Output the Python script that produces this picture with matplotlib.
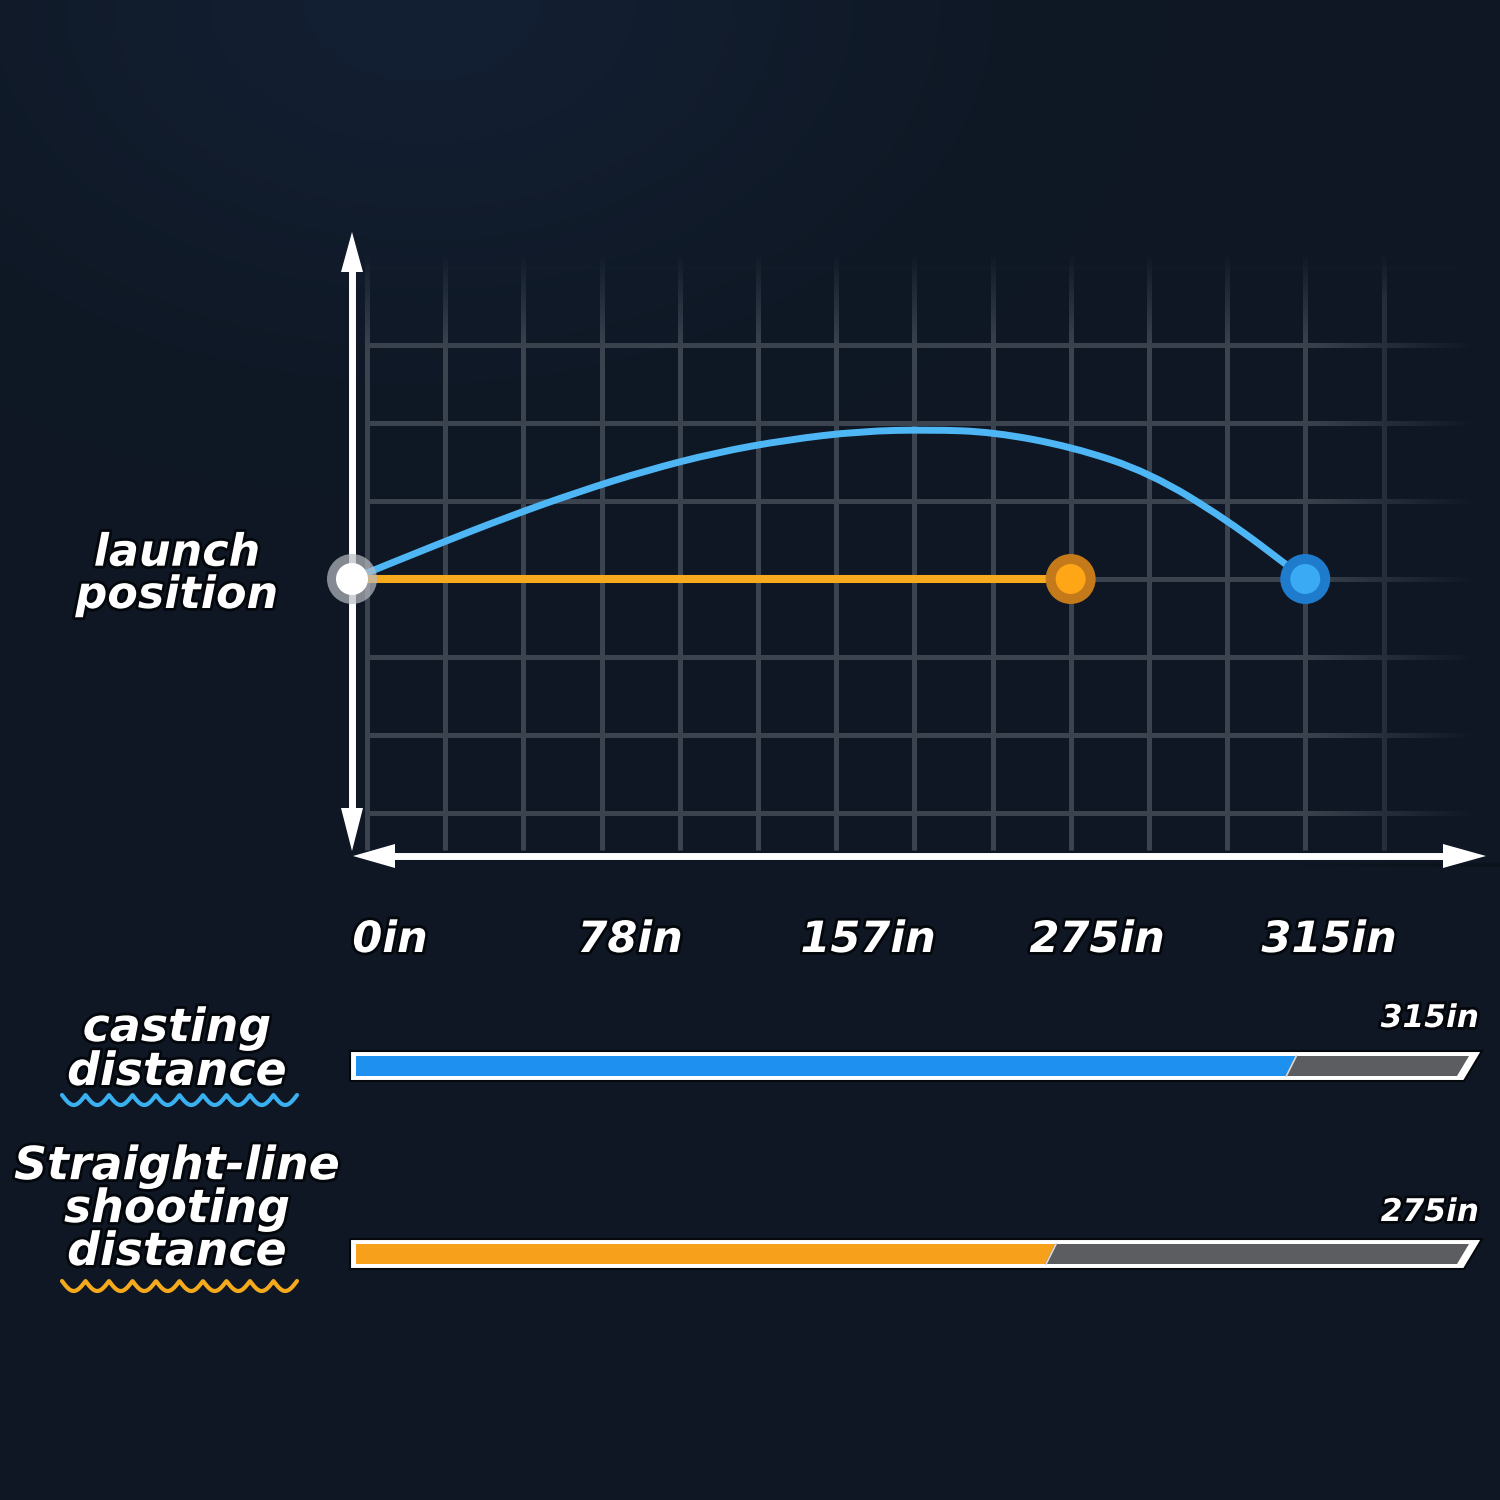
import numpy as np
import matplotlib
matplotlib.use("Agg")
import matplotlib.pyplot as plt
from matplotlib.patches import Polygon, Circle, PathPatch
from matplotlib.path import Path
import matplotlib.patheffects as pe

# ---------------- data ----------------
# trajectory of the cast, in grid cells from the launch point (x right, y up)
casting_x = [0.0, 1.06, 1.98, 2.88, 3.77, 4.67, 5.56, 6.50, 7.39, 8.20, 9.21, 10.20, 11.20, 12.03, 12.19]
casting_y = [0.0, 0.43, 0.79, 1.11, 1.39, 1.62, 1.78, 1.89, 1.91, 1.88, 1.69, 1.36, 0.75, 0.12, 0.0]
# straight-line shot: from launch point to its end, in grid cells
straight_x = [0.0, 9.19]
straight_y = [0.0, 0.0]

tick_labels = ["0in", "78in", "157in", "275in", "315in"]

bar_names = ["casting\ndistance", "Straight-line\nshooting\ndistance"]
bar_values = ["315in", "275in"]
bar_fill = [0.844, 0.627]          # filled share of each progress bar

# ---------------- layout helpers (pixel -> chart units) ----------------
CELL = 78.2
OX, OY = 352.0, 579.0
def X(px):
    return (np.asarray(px, dtype=float) - OX) / CELL
def Y(py):
    return (OY - np.asarray(py, dtype=float)) / CELL

BG_RGB = np.array([14, 23, 35]) / 255.0
BG = tuple(BG_RGB)
WHITE = "#ffffff"
GRID = "#3b434f"
BLUE_LINE = "#4fb6f5"
ORANGE_LINE = "#f8aa1e"

fig = plt.figure(figsize=(15, 15), dpi=100)
fig.patch.set_facecolor(BG)
ax = fig.add_axes([0, 0, 1, 1])
ax.set_xlim(X(0), X(1500))
ax.set_ylim(Y(1500), Y(0))
ax.axis("off")

# background with a faint glow at top-left
N = 300
yy, xx = np.mgrid[0:N, 0:N] / N * 1500
glow = np.exp(-(((xx - 420) / 450) ** 2 + ((yy - 0) / 300) ** 2))
hi = np.array([19, 31, 50]) / 255.0
img = BG_RGB[None, None, :] + glow[..., None] * (hi - BG_RGB)[None, None, :]
ax.imshow(img, extent=(X(0), X(1500), Y(1500), Y(0)), origin="upper",
          zorder=0, aspect="auto", interpolation="bilinear")

# ---------------- grid ----------------
vx = [367 + 78.2 * k for k in range(14)]
for px in vx:
    ax.plot([X(px), X(px)], [Y(850), Y(240)], color=GRID, lw=3.6, zorder=1,
            solid_capstyle="butt")
hy = [345, 423, 501, 579, 657, 735, 813]
for py in hy:
    ax.plot([X(367), X(1480)], [Y(py), Y(py)], color=GRID, lw=3.6, zorder=1,
            solid_capstyle="butt")
ax.plot([X(367), X(1480)], [Y(267), Y(267)], color=GRID, lw=3.6, zorder=1,
        alpha=0.3, solid_capstyle="butt")

# fade of the grid toward the top and the right (background-coloured veil)
a_top = np.clip((yy - 250) / (345 - 250), 0, 1)
a_right = np.clip((1470 - xx) / (1470 - 1300), 0, 1)
vis = np.minimum(a_top, a_right)
veil = np.zeros((N, N, 4))
veil[..., :3] = img
veil[..., 3] = 1 - vis
veil[(yy > 860)] = 0
ax.imshow(veil, extent=(X(0), X(1500), Y(1500), Y(0)), origin="upper",
          zorder=2, aspect="auto", interpolation="bilinear")

# ---------------- axes arrows ----------------
ax.plot([X(352), X(352)], [Y(262), Y(815)], color=WHITE, lw=5, zorder=3,
        solid_capstyle="butt")
ax.add_patch(Polygon(np.c_[X([352, 341, 363]), Y([232, 272, 272])],
                     closed=True, color=WHITE, zorder=3, lw=0))
ax.add_patch(Polygon(np.c_[X([352, 341, 363]), Y([851, 808, 808])],
                     closed=True, color=WHITE, zorder=3, lw=0))
ax.plot([X(388), X(1450)], [Y(856), Y(856)], color=WHITE, lw=5, zorder=3,
        solid_capstyle="butt")
ax.add_patch(Polygon(np.c_[X([353, 395, 395]), Y([856, 844, 868])],
                     closed=True, color=WHITE, zorder=3, lw=0))
ax.add_patch(Polygon(np.c_[X([1486, 1443, 1443]), Y([856, 844, 868])],
                     closed=True, color=WHITE, zorder=3, lw=0))

# ---------------- trajectories ----------------
def smooth_path(xs, ys):
    pts = np.c_[xs, ys]
    verts = [pts[0], (pts[0] + pts[1]) / 2]
    codes = [Path.MOVETO, Path.LINETO]
    for i in range(1, len(pts) - 1):
        verts += [pts[i], (pts[i] + pts[i + 1]) / 2]
        codes += [Path.CURVE3, Path.CURVE3]
    verts.append(pts[-1])
    codes.append(Path.LINETO)
    return Path(verts, codes)

ax.add_patch(PathPatch(smooth_path(casting_x, casting_y), fill=False,
                       edgecolor=BLUE_LINE, lw=5, zorder=4, capstyle="round",
                       joinstyle="round"))
ax.plot(straight_x, straight_y, color=ORANGE_LINE, lw=5.8, zorder=4,
        solid_capstyle="round")

r_out, r_in = 25 / CELL, 15 / CELL
ax.add_patch(Circle((casting_x[0], casting_y[0]), r_out, color="#b9bcc2",
                    alpha=0.7, zorder=5, lw=0))
ax.add_patch(Circle((casting_x[0], casting_y[0]), 16 / CELL, color=WHITE,
                    zorder=6, lw=0))
ax.add_patch(Circle((straight_x[-1], straight_y[-1]), r_out, color="#c47a1a",
                    zorder=5, lw=0))
ax.add_patch(Circle((straight_x[-1], straight_y[-1]), r_in, color="#ffa617",
                    zorder=6, lw=0))
ax.add_patch(Circle((casting_x[-1], casting_y[-1]), r_out, color="#1f7bcc",
                    zorder=5, lw=0))
ax.add_patch(Circle((casting_x[-1], casting_y[-1]), r_in, color="#3aaaf5",
                    zorder=6, lw=0))

# ---------------- texts ----------------
FONT = dict(family="DejaVu Sans", weight="bold", style="italic", color=WHITE)
shadow = [pe.withStroke(linewidth=4, foreground="#04070c")]

def label(px, py, s, size, ha="center", ls=1.0):
    # py = baseline of the last line
    ax.text(X(px), Y(py), s, fontsize=size, ha=ha, va="baseline",
            multialignment="center", linespacing=ls,
            path_effects=shadow, zorder=8, **FONT)

label(177, 608, "launch\nposition", 32, ls=0.98)

tick_px = [390, 630, 868, 1097, 1329]
for px, t in zip(tick_px, tick_labels):
    label(px, 952, t, 31)

label(177, 1085, bar_names[0], 33, ls=0.97)
label(177, 1265, bar_names[1], 33, ls=0.94)

# wavy underlines
def wave(py, color):
    xs = np.linspace(62, 297, 600)
    period = (297 - 62) / 10
    ys = py - 5 + 10 * np.abs(np.sin(np.pi * (xs - 62) / period))
    ax.plot(X(xs), Y(ys), color=color, lw=3, zorder=8, solid_capstyle="round")

wave(1100, "#3ab0f0")
wave(1286, "#f5a91c")

# ---------------- progress bars ----------------
bar_colors = ["#1e90f0", "#f7a01c"]
bar_tops = [1051, 1239]
value_base = [1027, 1221]
for top, vb, frac, col, val in zip(bar_tops, value_base, bar_fill, bar_colors, bar_values):
    bot = top + 30
    ax.add_patch(Polygon(np.c_[X([350, 1482, 1464, 350]), Y([top, top, bot, bot])],
                         closed=True, facecolor=WHITE, edgecolor="#05080d",
                         lw=1.5, zorder=5))
    it, ib = top + 5, bot - 5
    ax.add_patch(Polygon(np.c_[X([356, 1469, 1457, 356]), Y([it, it, ib, ib])],
                         closed=True, facecolor="#5c5d60", lw=0, zorder=6))
    mid_end = 356 + frac * (1463 - 356)
    ax.add_patch(Polygon(np.c_[X([356, mid_end + 5, mid_end - 5, 356]), Y([it, it, ib, ib])],
                         closed=True, facecolor=col, lw=0, zorder=7))
    ax.plot(X([mid_end + 6, mid_end - 4]), Y([it, ib]), color="#d9d9d9",
            lw=1.2, zorder=7)
    label(1479, vb, val, 22.5, ha="right")

fig.savefig("out.png", dpi=100, facecolor=BG)
